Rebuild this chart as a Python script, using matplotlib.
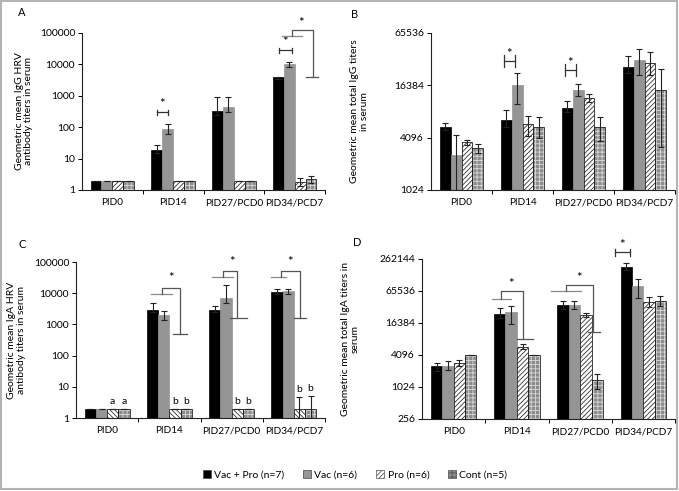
import numpy as np
import matplotlib
matplotlib.use("Agg")
import matplotlib.pyplot as plt
from matplotlib.patches import Patch, Rectangle

plt.rcParams['font.family'] = ['Lato', 'DejaVu Sans']
plt.rcParams['hatch.linewidth'] = 0.6

days = ["PID0", "PID14", "PID27/PCD0", "PID34/PCD7"]
groups = ["Vac + Pro (n=7)", "Vac (n=6)", "Pro (n=6)", "Cont (n=5)"]

# panel A - IgG HRV titers (geometric means, error bar low / high)
igg_hrv = [[2, 19, 340, 4000],
           [2, 90, 450, 10000],
           [2, 2, 2, 1.8],
           [2, 2, 2, 2.2]]
igg_hrv_lo = [[2, 15, 250, 3500],
              [2, 60, 300, 8500],
              [2, 2, 2, 1.3],
              [2, 2, 2, 1.7]]
igg_hrv_hi = [[2, 28, 900, 4000],
              [2, 125, 900, 12000],
              [2, 2, 2, 2.4],
              [2, 2, 2, 2.8]]

# panel B - total IgG
igg_tot = [[5500, 6500, 9000, 26600],
           [2600, 16384, 14600, 32300],
           [3700, 5900, 11700, 29500],
           [3150, 5500, 5500, 14600]]
igg_tot_lo = [[5000, 5500, 8000, 23000],
              [1030, 10000, 12300, 21600],
              [3400, 4300, 10500, 21600],
              [2750, 4100, 3750, 3200]]
igg_tot_hi = [[6000, 8500, 10800, 35400],
              [4400, 23000, 17000, 43000],
              [3900, 7200, 13000, 40000],
              [3500, 7000, 7000, 25000]]

# panel C - IgA HRV titers
iga_hrv = [[2, 3000, 3000, 11000],
           [2, 2000, 7000, 11500],
           [2, 2, 2, 2],
           [2, 2, 2, 2]]
iga_hrv_lo = [[2, 2500, 2500, 9500],
              [2, 1400, 5000, 9500],
              [2, 2, 2, 1],
              [2, 2, 2, 1]]
iga_hrv_hi = [[2, 5000, 4000, 13500],
              [2, 2600, 18000, 14000],
              [2, 2, 2, 4.7],
              [2, 2, 2, 5.0]]
iga_letters = [["", "", "", ""],
               ["", "", "", ""],
               ["a", "b", "b", "b"],
               ["a", "b", "b", "b"]]

# panel D - total IgA
iga_tot = [[2500, 23800, 35000, 185000],
           [2580, 26000, 36300, 80000],
           [2900, 5800, 23200, 40600],
           [4096, 4050, 1370, 43000]]
iga_tot_lo = [[2020, 20000, 30000, 160000],
              [2100, 16000, 30000, 48000],
              [2500, 5200, 21000, 33000],
              [4096, 4050, 940, 34000]]
iga_tot_hi = [[2950, 31000, 42000, 220000],
              [3150, 34000, 42000, 110000],
              [3300, 6500, 25500, 51000],
              [4096, 4050, 1800, 53000]]

faces = ["black", "#959595", "white", "#8c8c8c"]
hatches = [None, None, "///////", "++++"]
hatch_cols = [None, None, "#333333", "#d8d8d8"]
bw = 0.18
offs = [-1.5 * bw, -0.5 * bw, 0.5 * bw, 1.5 * bw]

fig = plt.figure(figsize=(6.79, 4.91), dpi=100)
fig.patches.append(Rectangle((0.002, 0.004), 0.995, 0.993, transform=fig.transFigure,
                             fill=False, edgecolor="#b4b4b4", linewidth=1.5))


def draw_bars(ax, vals, lo, hi, pro_hatch="///////"):
    x = np.arange(len(days))
    for g in range(4):
        v = np.array(vals[g], dtype=float)
        err = [v - np.array(lo[g]), np.array(hi[g]) - v]
        h = hatches[g]
        if g == 2:
            h = pro_hatch
        if h is None:
            ax.bar(x + offs[g], v, bw, color=faces[g], edgecolor=faces[g], linewidth=0.5, zorder=2)
        else:
            ax.bar(x + offs[g], v, bw, color=faces[g], hatch=h, edgecolor=hatch_cols[g],
                   linewidth=0, zorder=2)
            ax.bar(x + offs[g], v, bw, fill=False, edgecolor="#222222", linewidth=0.6, zorder=3)
        ax.errorbar(x + offs[g], v, yerr=err, fmt="none", ecolor="#222222", elinewidth=0.8,
                    capsize=2.2, capthick=0.8, zorder=4)
    ax.set_xlim(-0.5, 3.5)
    ax.set_xticks(x)
    ax.set_xticklabels(days, fontsize=7.2)
    ax.tick_params(axis="x", which="major", length=0, pad=6)
    ax.set_xticks([0.5, 1.5, 2.5, 3.5], minor=True)
    ax.tick_params(axis="x", which="minor", length=3, direction="out", width=0.7)
    ax.tick_params(axis="y", which="major", length=3, width=0.7, labelsize=7.5, pad=2)
    ax.tick_params(axis="y", which="minor", length=0)
    for s in ["top", "right"]:
        ax.spines[s].set_visible(False)
    for s in ["left", "bottom"]:
        ax.spines[s].set_linewidth(0.8)
        ax.spines[s].set_color("#222222")


def small_bracket(ax, day, x0, x1, y, star_y):
    ax.plot([day + x0, day + x1], [y, y], color="#333333", lw=0.9, clip_on=False, zorder=5)
    for xx in (x0, x1):
        ax.plot([day + xx, day + xx], [y / 1.17, y * 1.17], color="#333333", lw=0.9,
                clip_on=False, zorder=5)
    ax.text(day + (x0 + x1) / 2, star_y, "*", ha="center", va="center", fontsize=9.5,
            clip_on=False)


def big_bracket(ax, day, left, y_left, x_vert, y_top, x_right, y_right, right, star_x, star_y):
    kw = dict(lw=0.9, clip_on=False, zorder=5)
    ax.plot([day + left[0], day + left[1]], [y_left, y_left], color="#8a8a8a", **kw)
    ax.plot([day + x_vert, day + x_vert, day + x_right, day + x_right],
            [y_left, y_top, y_top, y_right], color="#555555", **kw)
    ax.plot([day + right[0], day + right[1]], [y_right, y_right], color="#555555", **kw)
    ax.text(day + star_x, star_y, "*", ha="center", va="center", fontsize=9.5, clip_on=False)


axA = fig.add_axes([82 / 679, 1 - 190 / 491, 243 / 679, 157 / 491])
axB = fig.add_axes([431 / 679, 1 - 190 / 491, 244 / 679, 157 / 491])
axC = fig.add_axes([76 / 679, 1 - 418 / 491, 249 / 679, 156 / 491])
axD = fig.add_axes([422 / 679, 1 - 419 / 491, 253 / 679, 160 / 491])

# A
draw_bars(axA, igg_hrv, igg_hrv_lo, igg_hrv_hi)
axA.set_yscale("log")
axA.set_ylim(1, 100000)
axA.set_yticks([1, 10, 100, 1000, 10000, 100000])
axA.set_yticklabels(["1", "10", "100", "1000", "10000", "100000"])
axA.set_ylabel("Geometric mean IgG HRV\nantibody titers in serum", fontsize=7.5, linespacing=1.1)
axA.yaxis.set_label_coords(-0.2, 0.5)
small_bracket(axA, 1, -0.27, -0.08, 295, 560)
small_bracket(axA, 3, -0.26, -0.04, 28000, 50000)
big_bracket(axA, 3, (-0.2, 0.12), 82000, -0.04, 126000, 0.31, 4100, (0.19, 0.38), 0.1, 210000)

# B
draw_bars(axB, igg_tot, igg_tot_lo, igg_tot_hi)
axB.set_yscale("log", base=2)
axB.set_ylim(1024, 65536)
axB.set_yticks([1024, 4096, 16384, 65536])
axB.set_yticklabels(["1024", "4096", "16384", "65536"])
axB.set_ylabel("Geometric mean total IgG titers\nin serum", fontsize=7.5, linespacing=1.1)
axB.yaxis.set_label_coords(-0.255, 0.5)
small_bracket(axB, 1, -0.31, -0.13, 31000, 37500)
small_bracket(axB, 2, -0.31, -0.12, 24800, 29500)

# C
draw_bars(axC, iga_hrv, iga_hrv_lo, iga_hrv_hi, pro_hatch="\\\\\\\\\\\\\\")
axC.set_yscale("log")
axC.set_ylim(1, 100000)
axC.set_yticks([1, 10, 100, 1000, 10000, 100000])
axC.set_yticklabels(["1", "10", "100", "1000", "10000", "100000"])
axC.set_ylabel("Geometric mean IgA HRV\nantibody titers in serum", fontsize=7.5, linespacing=1.1)
axC.yaxis.set_label_coords(-0.2, 0.5)
for g in (2, 3):
    for d in range(4):
        if iga_letters[g][d]:
            ax_y = max(iga_hrv[g][d], iga_hrv_hi[g][d]) * 1.25
            axC.text(d + offs[g], ax_y, iga_letters[g][d], ha="center", va="bottom", fontsize=7.5)
big_bracket(axC, 1, (-0.29, 0.04), 9700, -0.12, 15000, 0.17, 490, (0.06, 0.28), 0.03, 30000)
big_bracket(axC, 2, (-0.31, 0.03), 32000, -0.145, 51000, 0.08, 1620, (-0.02, 0.24), 0.0, 100000)
big_bracket(axC, 3, (-0.36, -0.12), 32000, -0.21, 51000, 0.1, 1620, (0.0, 0.2), -0.07, 100000)

# D
draw_bars(axD, iga_tot, iga_tot_lo, iga_tot_hi)
axD.set_yscale("log", base=2)
axD.set_ylim(256, 262144)
axD.set_yticks([256, 1024, 4096, 16384, 65536, 262144])
axD.set_yticklabels(["256", "1024", "4096", "16384", "65536", "262144"])
axD.set_ylabel("Geometric mean total IgA titers in\nserum", fontsize=7.5, linespacing=1.1)
axD.yaxis.set_label_coords(-0.245, 0.5)
big_bracket(axD, 1, (-0.39, -0.1), 47000, -0.25, 66500, 0.1, 8300, (0.0, 0.25), -0.1, 88000)
big_bracket(axD, 2, (-0.46, 0.01), 64600, -0.23, 83500, 0.21, 11100, (0.13, 0.32), -0.01, 115000)
small_bracket(axD, 3, -0.45, -0.21, 350000, 480000)

for lab, x, y in [("A", 22, 12), ("B", 355, 15), ("C", 22, 244), ("D", 357, 242)]:
    fig.text(x / 679, 1 - y / 491, lab, fontsize=8, ha="center", va="center")

handles = []
for g in range(4):
    if hatches[g] is None:
        handles.append(Patch(facecolor=faces[g], edgecolor="#444444", linewidth=0.5, label=groups[g]))
    else:
        handles.append(Patch(facecolor=faces[g], edgecolor="#555555", hatch=hatches[g],
                             linewidth=0.5, label=groups[g]))
fig.legend(handles=handles, loc="center", bbox_to_anchor=(355 / 679, 1 - 475 / 491), ncol=4,
           frameon=False, fontsize=7.5, handlelength=0.8, handleheight=0.8, handletextpad=0.3,
           columnspacing=1.8)

fig.savefig("out.png", dpi=100)
